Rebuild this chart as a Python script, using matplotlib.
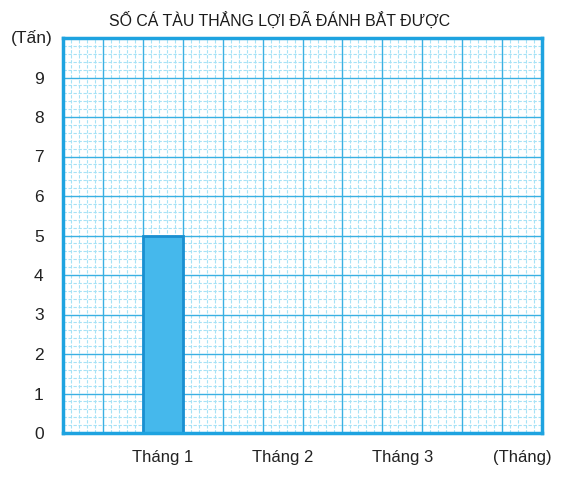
import matplotlib
matplotlib.use("Agg")
import matplotlib.pyplot as plt
import numpy as np

title = "SỐ CÁ TÀU THẮNG LỢI ĐÃ ĐÁNH BẮT ĐƯỢC"
months = ["Tháng 1", "Tháng 2", "Tháng 3"]
values = [5]  # only Tháng 1 is filled in
y_ticks = [0, 1, 2, 3, 4, 5, 6, 7, 8, 9]
y_unit = "(Tấn)"
x_unit = "(Tháng)"

plt.rcParams['font.family'] = ['Liberation Sans', 'DejaVu Sans']

fig = plt.figure(figsize=(5.62, 4.82), dpi=100)
ax = fig.add_axes([63/562, 1-433/482, (542-63)/562, (433-38)/482])
ax.set_xlim(0, 12)
ax.set_ylim(0, 10)

major_c = "#3ab0e2"
minor_c = "#a6e2f6"
# minor grid
for v in np.arange(0, 12.01, 0.2):
    if abs(v - round(v)) > 1e-6:
        ax.axvline(v, color=minor_c, lw=0.8, ls=(0, (3, 1.5)), zorder=1)
for v in np.arange(0, 10.01, 0.2):
    if abs(v - round(v)) > 1e-6:
        ax.axhline(v, color=minor_c, lw=0.8, ls=(0, (3, 1.5)), zorder=1)
# major grid
for v in range(1, 12):
    ax.axvline(v, color=major_c, lw=1.0, zorder=2)
for v in range(1, 10):
    ax.axhline(v, color=major_c, lw=1.0, zorder=2)

xpos = [2.5 + 3 * i for i in range(len(months))]
ax.bar(xpos[:len(values)], values, width=1.0, color="#45b8ec",
       edgecolor="#1a8fd0", linewidth=2.0, zorder=3)

for s in ax.spines.values():
    s.set_color("#1ea3e0")
    s.set_linewidth(2.5)
    s.set_zorder(4)

ax.set_yticks(y_ticks)
ax.set_yticklabels([str(t) for t in y_ticks])
ax.tick_params(axis='y', length=0, pad=14, labelsize=12.5, labelcolor="#222222")
ax.set_xticks(xpos + [11.5])
ax.set_xticklabels(months + [x_unit])
ax.tick_params(axis='x', length=0, pad=12, labelsize=12, labelcolor="#222222")

fig.text(32/562, 1-38/482, y_unit, ha='center', va='center', fontsize=12.5, color="#222222")
fig.text(280/562, 1-20/482, title, ha='center', va='center', fontsize=11.4, color="#1a1a1a")

fig.savefig("out.png", dpi=100)
